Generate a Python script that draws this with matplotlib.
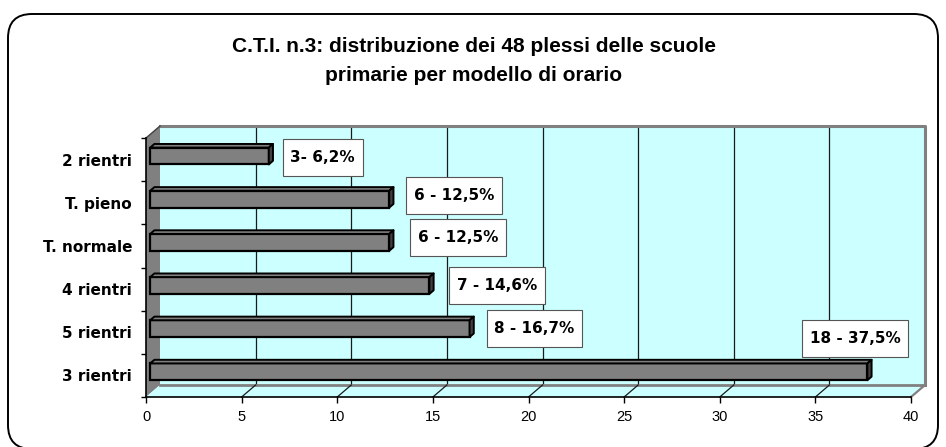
import matplotlib
matplotlib.use("Agg")
import matplotlib.pyplot as plt
from matplotlib.patches import Polygon, FancyBboxPatch
from matplotlib.path import Path
from matplotlib.transforms import IdentityTransform
import numpy as np

# ---- data (bottom to top) ----
categories = ["3 rientri", "5 rientri", "4 rientri", "T. normale", "T. pieno", "2 rientri"]
counts = [18, 8, 7, 6, 6, 3]
percent = [37.5, 16.7, 14.6, 12.5, 12.5, 6.2]
value_labels = ["18 - 37,5%", "8 - 16,7%", "7 - 14,6%", "6 - 12,5%", "6 - 12,5%", "3- 6,2%"]
x_ticks = [0, 5, 10, 15, 20, 25, 30, 35, 40]
title = "C.T.I. n.3: distribuzione dei 48 plessi delle scuole\nprimarie per modello di orario"

# label placement (pixel offsets from the bar end / category centre)
label_offsets = [(-12, 37), (64.7, 4), (67.6, 4), (68.5, 8.8), (64.5, 7.7), (54, 2.5)]

# ---- colours ----
WALL = "#CCFFFF"
GREY = "#808080"
DARK = "#404040"

W, H = 946, 447
fig = plt.figure(figsize=(W / 100, H / 100), dpi=100)
fig.patch.set_facecolor("white")

# front plane of the pseudo-3D plot (pixels)
L, R, B, T = 146, 911, 397, 138
ax = fig.add_axes([L / W, 1 - B / H, (R - L) / W, (B - T) / H])
ax.set_xlim(0, 40)
ax.set_ylim(-0.5, 5.5)
ax.patch.set_visible(False)
for s in ax.spines.values():
    s.set_visible(False)

px_x = (R - L) / 40.0
px_y = (B - T) / 6.0
ddx = 14 / px_x   # depth offset in data units
ddy = 12 / px_y
y0, y1 = -0.5, 5.5

# back wall
ax.add_patch(Polygon([(ddx, y0 + ddy), (40 + ddx, y0 + ddy), (40 + ddx, y1 + ddy), (ddx, y1 + ddy)],
                     closed=True, fc=WALL, ec="none", clip_on=False, zorder=0))
for t in x_ticks[1:-1]:
    ax.plot([t + ddx, t + ddx], [y0 + ddy, y1 + ddy], color="#1a1a1a", lw=0.9, clip_on=False, zorder=1)
ax.plot([ddx, 40 + ddx, 40 + ddx], [y1 + ddy, y1 + ddy, y0 + ddy], color=GREY, lw=2.2,
        clip_on=False, zorder=1, solid_capstyle="projecting")

# side wall
ax.add_patch(Polygon([(0, y0), (ddx, y0 + ddy), (ddx, y1 + ddy), (0, y1)],
                     closed=True, fc=GREY, ec="none", clip_on=False, zorder=1))
ax.plot([0, ddx], [y1, y1 + ddy], color=DARK, lw=1.0, clip_on=False, zorder=1)

# floor
ax.add_patch(Polygon([(0, y0), (40, y0), (40 + ddx, y0 + ddy), (ddx, y0 + ddy)],
                     closed=True, fc=WALL, ec="none", clip_on=False, zorder=1))
ax.plot([ddx, 40 + ddx], [y0 + ddy, y0 + ddy], color=GREY, lw=2.0, clip_on=False, zorder=1)
ax.plot([40, 40 + ddx], [y0, y0 + ddy], color=GREY, lw=1.6, clip_on=False, zorder=1)
for t in x_ticks[1:-1]:
    ax.plot([t, t + ddx], [y0, y0 + ddy], color="#1a1a1a", lw=0.9, clip_on=False, zorder=1)

# axis lines
ax.plot([0, 40], [y0, y0], color="black", lw=1.2, clip_on=False, zorder=2)
ax.plot([0, 0], [y0, y1], color="black", lw=1.2, clip_on=False, zorder=2)

# bars: front face, top face and end face
d0, d1 = 0.3, 0.6
h = 0.39
ypos = np.arange(len(categories))
ax.barh(ypos + d0 * ddy, percent, left=d0 * ddx, height=h, color=GREY,
        edgecolor="black", linewidth=1.6, zorder=3, clip_on=False)
for y, v in zip(ypos, percent):
    xa, xb = d0 * ddx, d0 * ddx + v
    yb, yt = y + d0 * ddy - h / 2, y + d0 * ddy + h / 2
    ex, ey = (d1 - d0) * ddx, (d1 - d0) * ddy
    ax.add_patch(Polygon([(xa, yt), (xb, yt), (xb + ex, yt + ey), (xa + ex, yt + ey)], closed=True,
                         fc=GREY, ec="black", lw=1.4, zorder=3, clip_on=False, joinstyle="round"))
    ax.add_patch(Polygon([(xb, yb), (xb, yt), (xb + ex, yt + ey), (xb + ex, yb + ey)], closed=True,
                         fc=DARK, ec="black", lw=1.4, zorder=3, clip_on=False, joinstyle="round"))


def label_box(x0, y0, width, height, mutation_size):
    """Rectangle with separate horizontal and vertical padding."""
    px, py = 0.5 * mutation_size, 0.72 * mutation_size
    verts = [(x0 - px, y0 - py), (x0 + width + px, y0 - py),
             (x0 + width + px, y0 + height + py), (x0 - px, y0 + height + py),
             (x0 - px, y0 - py)]
    return Path(verts, closed=True)


# value labels
for y, v, txt, (ox, oy) in zip(ypos, percent, value_labels, label_offsets):
    ax.annotate(txt, xy=(d0 * ddx + v, y), xytext=(ox, oy), textcoords="offset pixels",
                ha="center", va="center", fontsize=11, fontweight="bold", family="DejaVu Sans",
                bbox=dict(boxstyle=label_box, fc="white", ec="#555555", lw=0.8),
                zorder=5, annotation_clip=False)

# ticks
ax.set_xticks(x_ticks)
ax.set_xticklabels([str(t) for t in x_ticks], fontsize=10.5, family="Liberation Sans")
ax.tick_params(axis="x", direction="out", length=4.3, width=1.0, pad=5, color="black")
ax.set_yticks(ypos)
ax.set_yticklabels(categories, fontsize=11, fontweight="bold", family="DejaVu Sans")
ax.tick_params(axis="y", which="major", length=0, pad=10)
ax.set_yticks(np.arange(-0.5, 6, 1), minor=True)
ax.tick_params(axis="y", which="minor", direction="out", length=3.6, width=1.0, color="black")

# title
fig.text(474 / W, 1 - 61 / H, title, ha="center", va="center", fontsize=15,
         fontweight="bold", family="Liberation Sans", linespacing=1.65)

# rounded outer frame
frame = FancyBboxPatch((8, -2), 930, 435, boxstyle="round,pad=0,rounding_size=24",
                       transform=IdentityTransform(), fill=False, ec="black", lw=1.4)
fig.add_artist(frame)

fig.savefig("out.png", dpi=100)
